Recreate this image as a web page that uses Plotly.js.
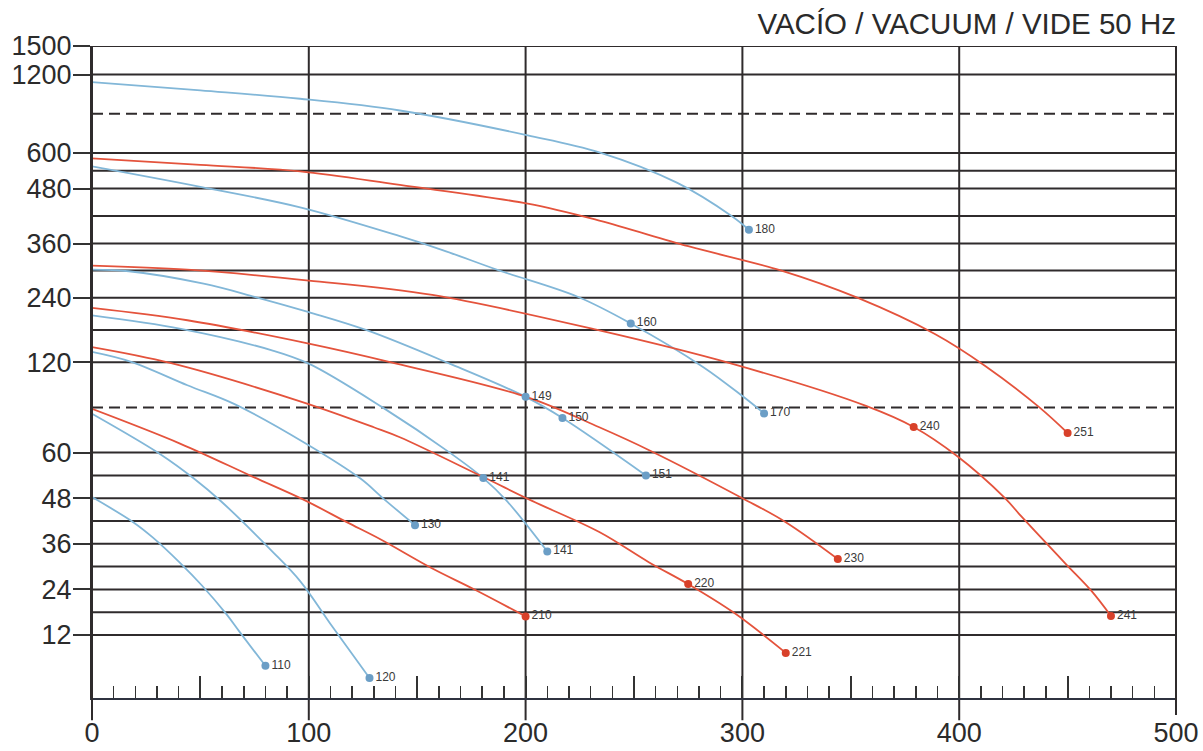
<!DOCTYPE html>
<html>
<head>
<meta charset="utf-8">
<script src="https://cdn.plot.ly/plotly-3.0.1.min.js"></script>
<style>html,body{margin:0;padding:0;background:#fff}#chart{width:1203px;height:751px}</style>
</head>
<body>
<div id="chart"></div>
<script>
// ---- Non-linear vacuum scale of the chart (value knots -> relative axis height) ----
const scaleValues  = [0, 12, 60, 120, 240, 360, 480, 600, 1200, 1500];
const scaleHeights = [17.4, 63, 245.5, 336, 400.5, 454.7, 509.7, 545.3, 623.7, 652.3];

const yTickLabels = [1500, 1200, 600, 480, 360, 240, 120, 60, 48, 36, 24, 12];
const gridSolid   = [12, 18, 24, 30, 36, 42, 48, 54, 60, 120, 180, 240, 300, 360, 420, 480, 540, 600, 1200, 1500];
const gridDashed  = [90, 900];
const xTickLabels = [0, 100, 200, 300, 400, 500];
const xGridLines  = [100, 200, 300, 400];

// ---- Curves (x = flow, y = vacuum value) ----
const b180_x = [0, 50, 96, 142, 201, 234, 270, 295, 303];
const b180_y = [1143, 1079, 1015, 925, 735, 605, 499, 420, 390];

const b160_x = [0, 50, 96, 142, 162, 188, 224, 248.5, 282, 300, 310];
const b160_y = [555, 486, 439, 376, 345, 300, 242, 192, 116.7, 97.5, 86];

const b149_x = [0, 17, 51.5, 75, 100, 127, 165, 200, 217, 255.5];
const b149_y = [302, 298.5, 271, 242, 213, 179, 119, 97, 83, 54];

const b141_x = [0, 41, 83, 100, 134, 165, 180.5, 191, 210];
const b141_y = [207, 182, 142, 119, 90, 60, 53.3, 47.5, 34];

const b130_x = [0, 18, 44, 66, 98, 124, 134, 149];
const b130_y = [139, 120.6, 104.7, 92, 66.6, 53.1, 48.1, 40.9];

const b120_x = [0, 31.5, 47, 59.5, 83, 96, 111, 128];
const b120_y = [85.8, 59.6, 53.2, 47.2, 34.1, 26.2, 14.1, 0.7];

const b110_x = [0, 19, 28, 40.6, 50.6, 62, 68, 80];
const b110_y = [48.3, 41.7, 37.7, 31, 25.1, 17.5, 12.9, 3.9];

const r251_x = [0, 50, 96, 142, 201, 234, 275, 318, 353, 389, 412, 437, 450];
const r251_y = [582, 560, 538, 492, 447, 410, 354, 300, 240, 172, 117.5, 90, 73];

const r240_x = [0, 44, 100, 157, 234, 295, 357, 379, 399, 421, 429, 449, 461, 470];
const r240_y = [311, 302, 278, 246, 179, 119, 91, 77, 59.1, 48.1, 43, 30.8, 23.6, 17];

const r230_x = [0, 44, 100, 137, 201, 234, 257, 300, 320, 344];
const r230_y = [221, 198, 154.5, 120.6, 96.7, 76.8, 61.6, 48, 41.7, 32];

const r220_x = [0, 36.5, 96, 130, 142, 180, 203, 234, 257, 275, 296, 320];
const r220_y = [148, 119.3, 94, 76.8, 70.2, 53.7, 47.3, 39.1, 31.1, 25.4, 17.9, 7.3];

const r210_x = [0, 40.6, 74, 98, 117.5, 133, 157, 176, 200];
const r210_y = [89, 66, 53.7, 47.5, 41.7, 37.2, 29.5, 24.1, 16.9];

// ---- Model end points ----
const blueMarkX = [303, 248.5, 310, 200, 217, 255.5, 180.5, 210, 149, 128, 80];
const blueMarkY = [390, 192, 86, 97, 83, 54, 53.3, 34, 40.9, 0.7, 3.9];
const blueMarkT = ['180', '160', '170', '149', '150', '151', '141', '141', '130', '120', '110'];

const redMarkX = [450, 379, 470, 344, 275, 320, 200];
const redMarkY = [73, 77, 17, 32, 25.4, 7.3, 16.9];
const redMarkT = ['251', '240', '241', '230', '220', '221', '210'];

// ---- scale function ----
function pos(v) {
  let i = 0;
  while (i < scaleValues.length - 2 && v > scaleValues[i + 1]) i++;
  const v0 = scaleValues[i], v1 = scaleValues[i + 1];
  const h0 = scaleHeights[i], h1 = scaleHeights[i + 1];
  return h0 + (v - v0) * (h1 - h0) / (v1 - v0);
}

const BLUE = '#82b7d8', RED = '#e4533c';
const BLUE_M = '#6b9ec6', RED_M = '#d8412a';
const GRID = '#2f2b2c';

function curve(x, y, color) {
  return {
    x: x, y: y.map(pos), type: 'scatter', mode: 'lines',
    line: {color: color, width: 1.8, shape: 'spline', smoothing: 1.0},
    hoverinfo: 'skip', showlegend: false
  };
}

const traces = [
  curve(b180_x, b180_y, BLUE), curve(b160_x, b160_y, BLUE), curve(b149_x, b149_y, BLUE),
  curve(b141_x, b141_y, BLUE), curve(b130_x, b130_y, BLUE), curve(b120_x, b120_y, BLUE),
  curve(b110_x, b110_y, BLUE),
  curve(r251_x, r251_y, RED), curve(r240_x, r240_y, RED), curve(r230_x, r230_y, RED),
  curve(r220_x, r220_y, RED), curve(r210_x, r210_y, RED),
  {
    x: blueMarkX, y: blueMarkY.map(pos), text: blueMarkT, type: 'scatter', mode: 'markers+text',
    marker: {color: BLUE_M, size: 8}, textposition: 'middle right',
    textfont: {family: 'Liberation Sans, Arial, sans-serif', size: 12, color: '#3a3a3a'},
    showlegend: false, hoverinfo: 'skip', cliponaxis: false
  },
  {
    x: redMarkX, y: redMarkY.map(pos), text: redMarkT, type: 'scatter', mode: 'markers+text',
    marker: {color: RED_M, size: 8}, textposition: 'middle right',
    textfont: {family: 'Liberation Sans, Arial, sans-serif', size: 12, color: '#3a3a3a'},
    showlegend: false, hoverinfo: 'skip', cliponaxis: false
  }
];

const shapes = [];
gridSolid.forEach(v => shapes.push({
  type: 'line', xref: 'paper', x0: 0, x1: 1, yref: 'y', y0: pos(v), y1: pos(v),
  line: {color: GRID, width: 2}, layer: 'below'
}));
gridDashed.forEach(v => shapes.push({
  type: 'line', xref: 'paper', x0: 0, x1: 1, yref: 'y', y0: pos(v), y1: pos(v),
  line: {color: GRID, width: 2, dash: '11px,6px'}, layer: 'below'
}));
xGridLines.forEach(v => shapes.push({
  type: 'line', xref: 'x', x0: v, x1: v, yref: 'paper', y0: -0.034, y1: 1,
  line: {color: GRID, width: 2}, layer: 'below'
}));
// borders extended below the axis
shapes.push({type: 'line', xref: 'paper', x0: 0, x1: 0, yref: 'paper', y0: -0.034, y1: 1,
  line: {color: GRID, width: 2}});
shapes.push({type: 'line', xref: 'paper', x0: 1, x1: 1, yref: 'paper', y0: -0.026, y1: 1,
  line: {color: GRID, width: 2}});

const FONT = 'Liberation Sans, Arial, sans-serif';
const xTickVals = [];
const xTickText = [];
for (let v = 0; v <= 500; v += 50) {
  xTickVals.push(v);
  xTickText.push(xTickLabels.includes(v) ? String(v) : '');
}

const layout = {
  width: 1203, height: 751,
  margin: {l: 92, r: 27, t: 46, b: 53},
  paper_bgcolor: '#ffffff', plot_bgcolor: '#ffffff',
  title: {
    text: 'VACÍO / VACUUM / VIDE 50 Hz',
    font: {family: FONT, size: 29.5, color: '#2a2a2a'},
    x: 1, xref: 'paper', xanchor: 'right',
    y: 0.968, yref: 'container', yanchor: 'middle'
  },
  xaxis: {
    range: [0, 500], showgrid: false, zeroline: false,
    showline: true, linecolor: '#2f3340', linewidth: 2,
    tickmode: 'array', tickvals: xTickVals, ticktext: xTickText,
    ticks: 'inside', ticklen: 22, tickwidth: 2, tickcolor: '#333',
    minor: {tickmode: 'linear', tick0: 0, dtick: 10, ticks: 'inside', ticklen: 12, tickwidth: 1.5, tickcolor: '#333', showgrid: false},
    tickfont: {family: FONT, size: 27, color: '#2b2b2b'},
    ticklabelstandoff: 10, fixedrange: true
  },
  yaxis: {
    range: [0, 652.3], showgrid: false, zeroline: false,
    showline: true, linecolor: GRID, linewidth: 2,
    tickmode: 'array', tickvals: yTickLabels.map(pos), ticktext: yTickLabels.map(String),
    ticks: 'outside', ticklen: 17, tickwidth: 2, tickcolor: '#333',
    tickfont: {family: FONT, size: 27, color: '#2b2b2b'},
    ticklabelstandoff: -4, fixedrange: true
  },
  shapes: shapes,
  showlegend: false
};

Plotly.newPlot('chart', traces, layout, {displayModeBar: false, staticPlot: true});
</script>
</body>
</html>
